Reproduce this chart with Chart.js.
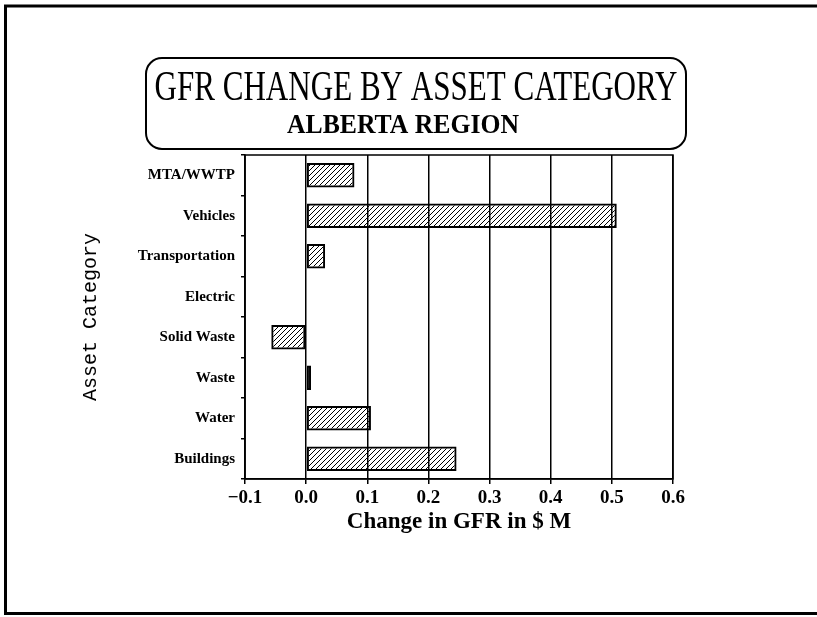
<!DOCTYPE html>
<html>
<head>
<meta charset="utf-8">
<title>GFR Change by Asset Category</title>
<script src="https://cdn.jsdelivr.net/npm/chart.js@4"></script>
<style>
  html, body { margin: 0; padding: 0; background: #fff; }
  #wrap { width: 817px; height: 617px; position: relative; }
</style>
</head>
<body>
<div id="wrap"><canvas id="chart"></canvas></div>
<script>
// Asset categories, top to bottom
const categories = ['MTA/WWTP', 'Vehicles', 'Transportation', 'Electric', 'Solid Waste', 'Waste', 'Water', 'Buildings'];
// Change in GFR, $ M
const gfrChange = [0.079, 0.508, 0.031, 0, -0.057, 0.008, 0.106, 0.246];
const xTicks = [-0.1, 0.0, 0.1, 0.2, 0.3, 0.4, 0.5, 0.6];
const titleLines = ['GFR CHANGE BY ASSET CATEGORY', 'ALBERTA REGION'];

const SERIF = "'Liberation Serif', 'DejaVu Serif', serif";

// diagonal "/" hatch fill for the bars
function makeHatch() {
    const size = 5;
    const c = document.createElement('canvas');
    c.width = size;
    c.height = size;
    const g = c.getContext('2d');
    g.strokeStyle = '#000';
    g.lineWidth = 1;
    g.beginPath();
    g.moveTo(0, size); g.lineTo(size, 0);
    g.moveTo(-1, 1); g.lineTo(1, -1);
    g.moveTo(size - 1, size + 1); g.lineTo(size + 1, size - 1);
    g.stroke();
    return g.createPattern(c, 'repeat');
}

// text squeezed horizontally to a given width
function drawFitted(ctx, text, cx, baseline, width, font) {
    ctx.save();
    ctx.font = font;
    const w = ctx.measureText(text).width;
    ctx.translate(cx, baseline);
    ctx.scale(width / w, 1);
    ctx.textAlign = 'center';
    ctx.textBaseline = 'alphabetic';
    ctx.fillStyle = '#000';
    ctx.fillText(text, 0, 0);
    ctx.restore();
}

const decor = {
    id: 'decor',
    beforeDraw(chart) {
        const ctx = chart.ctx;
        ctx.save();
        ctx.fillStyle = '#fff';
        ctx.fillRect(0, 0, chart.width, chart.height);

        // page border (open on the right)
        ctx.strokeStyle = '#000';
        ctx.lineWidth = 3;
        ctx.beginPath();
        ctx.moveTo(chart.width + 2, 6);
        ctx.lineTo(5.5, 6);
        ctx.lineTo(5.5, 613.5);
        ctx.lineTo(chart.width + 2, 613.5);
        ctx.stroke();

        // rounded title box
        ctx.lineWidth = 2;
        ctx.beginPath();
        ctx.roundRect(146, 58, 540, 91, 16);
        ctx.stroke();
        ctx.restore();

        drawFitted(ctx, titleLines[0], 416, 100, 523, '400 42px ' + SERIF);
        drawFitted(ctx, titleLines[1], 403, 133, 232, '700 27px ' + SERIF);
    },
    afterDraw(chart) {
        const {ctx, chartArea: a} = chart;
        ctx.save();
        ctx.strokeStyle = '#000';
        ctx.lineWidth = 1.5;
        ctx.strokeRect(a.left, a.top, a.right - a.left, a.bottom - a.top);
        ctx.restore();
    }
};

const fmtTick = v => {
    if (Math.abs(v) < 1e-9) v = 0;
    return v.toFixed(1).replace('-', '\u2212');
};

new Chart(document.getElementById('chart'), {
    type: 'bar',
    data: {
        labels: categories,
        datasets: [{
            data: gfrChange,
            backgroundColor: makeHatch(),
            borderColor: '#000',
            borderWidth: 2,
            borderSkipped: false,
            barPercentage: 0.6,
            categoryPercentage: 1.0
        }]
    },
    options: {
        indexAxis: 'y',
        responsive: true,
        maintainAspectRatio: false,
        animation: false,
        layout: {
            padding: { top: 155, right: 144, bottom: 78, left: 0 }
        },
        plugins: {
            legend: { display: false },
            tooltip: { enabled: false },
            title: { display: false }
        },
        scales: {
            x: {
                min: -0.1,
                max: 0.6,
                afterBuildTicks: s => { s.ticks = xTicks.map(v => ({ value: v })); },
                afterFit: s => { s.height = 60; },
                grid: {
                    color: '#000',
                    lineWidth: 1.5,
                    tickLength: 5
                },
                border: { color: '#000', width: 1.5 },
                ticks: {
                    color: '#000',
                    padding: 3,
                    maxRotation: 0,
                    font: { family: SERIF, size: 19, weight: 'bold' },
                    callback: v => fmtTick(v)
                },
                title: {
                    display: true,
                    text: 'Change in GFR in $ M',
                    color: '#000',
                    padding: { top: 0, bottom: 3 },
                    font: { family: SERIF, size: 23, weight: 'bold' }
                }
            },
            y: {
                afterFit: s => { s.width = 245; },
                grid: {
                    offset: true,
                    drawOnChartArea: false,
                    color: '#000',
                    lineWidth: 1.5,
                    tickLength: 4
                },
                border: { color: '#000', width: 1.5 },
                ticks: {
                    color: '#000',
                    padding: 6,
                    font: { family: SERIF, size: 15, weight: 'bold' }
                },
                title: {
                    display: true,
                    text: 'Asset Category',
                    color: '#000',
                    padding: { top: 79, bottom: 0 },
                    font: { family: "'Liberation Mono', 'DejaVu Sans Mono', monospace", size: 20 }
                }
            }
        }
    },
    plugins: [decor]
});
</script>
</body>
</html>
